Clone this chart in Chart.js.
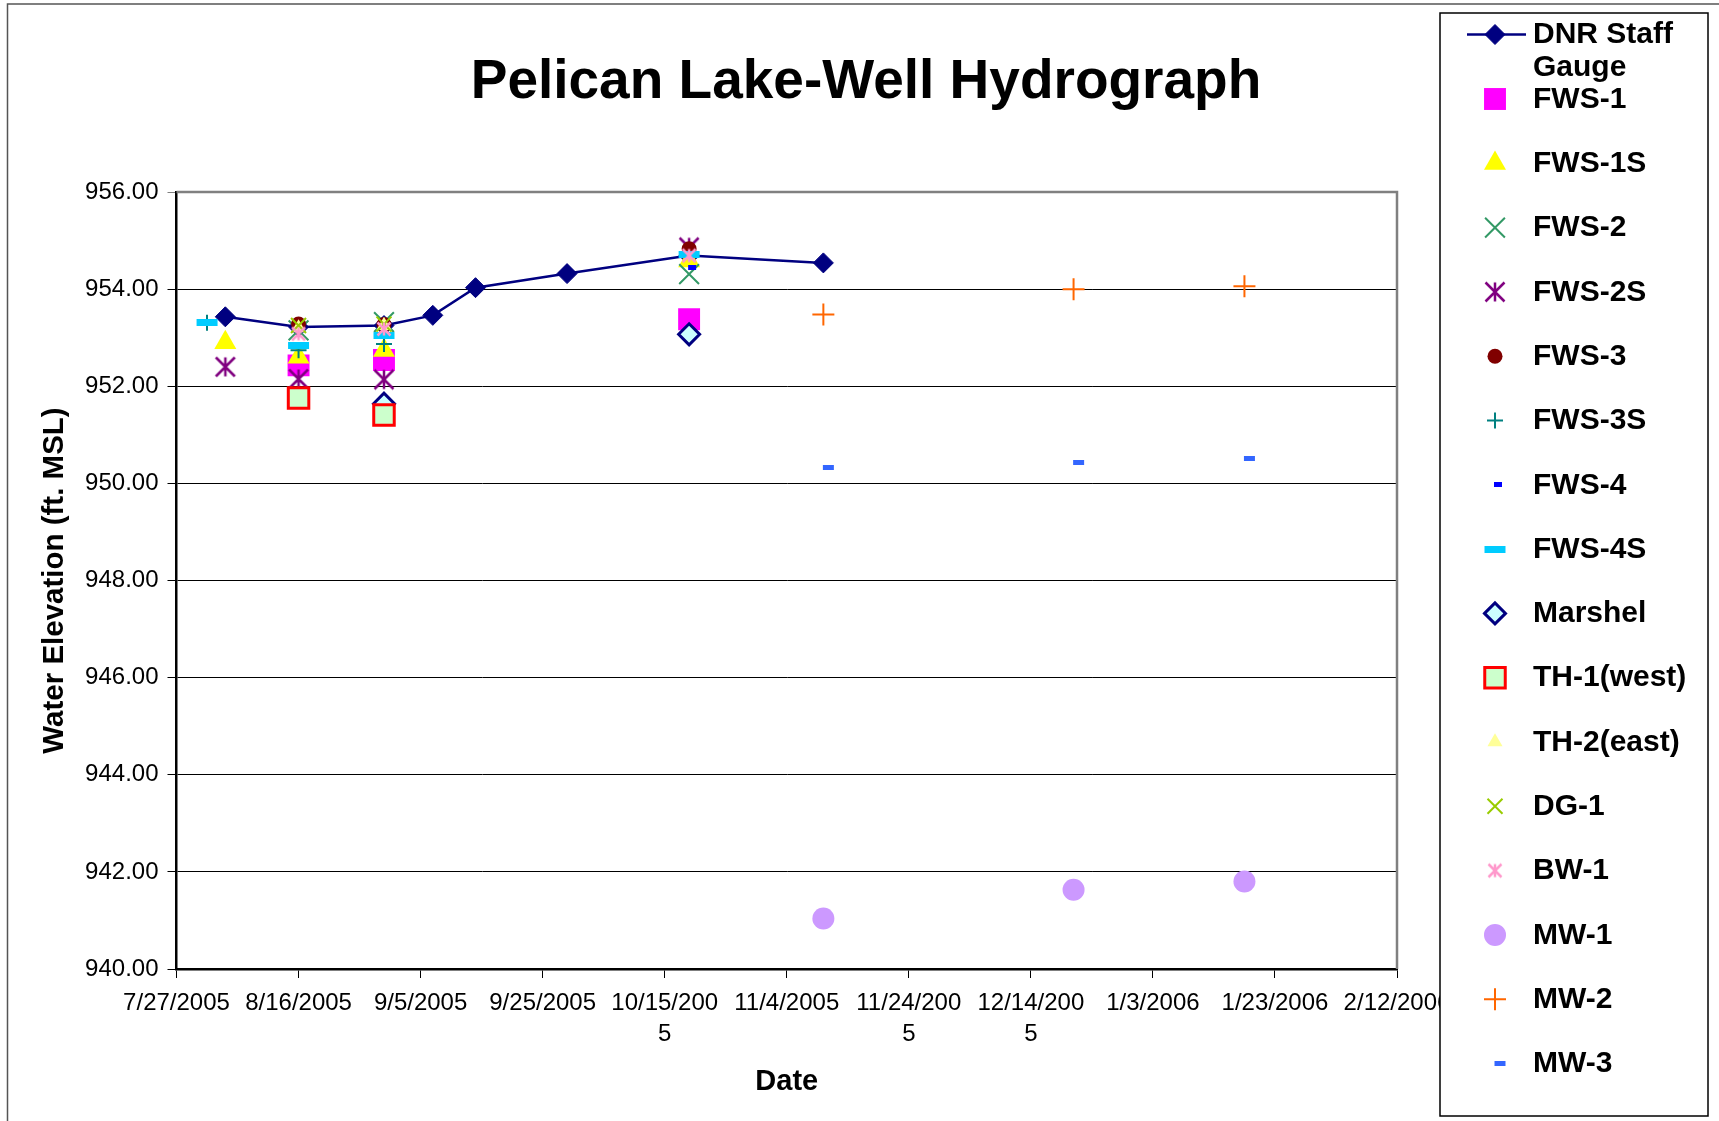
<!DOCTYPE html>
<html lang="en">
    <head>
        <meta charset="UTF-8" />
        <title>Pelican Lake-Well Hydrograph</title>
        <script src="https://cdn.jsdelivr.net/npm/chart.js"></script>
        <style>
            body {
                margin: 0;
                background: #fff;
            }
            #wrap {
                width: 1719px;
                height: 1121px;
            }
        </style>
    </head>
    <body>
        <div id="wrap">
            <canvas id="hydroChart" width="1719" height="1121"></canvas>
        </div>

        <script>
            // dates are read as days since 7/27/2005 for the x axis
            const startDate = "2005-07-27";
            const xTickLabels = ["7/27/2005", "8/16/2005", "9/5/2005", "9/25/2005", ["10/15/200", "5"], "11/4/2005", ["11/24/200", "5"], ["12/14/200", "5"], "1/3/2006", "1/23/2006", "2/12/2006"];

            const gaugeDates = ["2005-08-04", "2005-08-16", "2005-08-30", "2005-09-07", "2005-09-14", "2005-09-29", "2005-10-19", "2005-11-10"];
            const gaugeLevels = [953.43, 953.22, 953.25, 953.46, 954.03, 954.32, 954.69, 954.54];

            const fws1Dates = ["2005-08-16", "2005-08-30", "2005-10-19"];
            const fws1Levels = [952.43, 952.54, 953.38];
            const fws1sDates = ["2005-08-04", "2005-08-16", "2005-08-30", "2005-10-19"];
            const fws1sLevels = [952.9, 952.6, 952.74, 954.58];
            const fws2Dates = ["2005-08-16", "2005-08-30", "2005-10-19"];
            const fws2Levels = [953.15, 953.32, 954.31];
            const fws2sDates = ["2005-08-04", "2005-08-16", "2005-08-30", "2005-10-19"];
            const fws2sLevels = [952.4, 952.15, 952.14, 954.86];
            const fws3Dates = ["2005-08-16", "2005-08-30", "2005-10-19"];
            const fws3Levels = [953.28, 953.27, 954.83];
            const fws3sDates = ["2005-08-01", "2005-08-16", "2005-08-30"];
            const fws3sLevels = [953.31, 952.74, 952.87];
            const fws4Dates = ["2005-10-19"];
            const fws4Levels = [954.45];
            const fws4sDates = ["2005-08-01", "2005-08-16", "2005-08-30", "2005-10-19"];
            const fws4sLevels = [953.31, 952.84, 953.04, 954.72];
            const marshelDates = ["2005-08-30", "2005-10-19"];
            const marshelLevels = [951.64, 953.07];
            const th1Dates = ["2005-08-16", "2005-08-30"];
            const th1Levels = [951.76, 951.41];
            const th2Dates = ["2005-08-16", "2005-08-30"];
            const th2Levels = [953.2, 953.25];
            const dg1Dates = ["2005-08-16", "2005-08-30"];
            const dg1Levels = [953.25, 953.28];
            const bw1Dates = ["2005-08-16", "2005-08-30", "2005-10-19"];
            const bw1Levels = [953.08, 953.18, 954.69];
            const mwDates = ["2005-11-10", "2005-12-21", "2006-01-18"];
            const mw1Levels = [941.04, 941.63, 941.8];
            const mw2Levels = [953.48, 954.0, 954.06];
            const mw3Levels = [950.33, 950.43, 950.52];

            const FONT = "'Liberation Sans', Arial, sans-serif";

            function dayOf(iso) {
                return (Date.parse(iso) - Date.parse(startDate)) / 86400000;
            }

            function points(dates, levels) {
                return dates.map((d, i) => ({ x: dayOf(d), y: levels[i] }));
            }

            // small canvases for the Excel-style markers Chart.js doesn't have
            function dashImg(w, h, color, offset) {
                const c = document.createElement("canvas");
                c.width = Math.ceil((Math.abs(offset) + w / 2) * 2) + 2;
                c.height = h;
                const ctx = c.getContext("2d");
                ctx.fillStyle = color;
                ctx.fillRect(c.width / 2 + offset - w / 2, 0, w, h);
                return c;
            }

            function asteriskImg(size, color, lw) {
                const c = document.createElement("canvas");
                const s = Math.ceil(size + lw * 2);
                c.width = s;
                c.height = s;
                const ctx = c.getContext("2d");
                const m = s / 2;
                const r = size / 2;
                ctx.strokeStyle = color;
                ctx.lineWidth = lw;
                ctx.beginPath();
                ctx.moveTo(m - r, m - r);
                ctx.lineTo(m + r, m + r);
                ctx.moveTo(m + r, m - r);
                ctx.lineTo(m - r, m + r);
                ctx.moveTo(m, m - r);
                ctx.lineTo(m, m + r);
                ctx.stroke();
                return c;
            }

            const series = [
                { label: "DNR Staff Gauge", data: points(gaugeDates, gaugeLevels), pointStyle: "rectRot", radius: 10, bg: "#000080", border: "#000080", bw: 1, line: true },
                { label: "FWS-1", data: points(fws1Dates, fws1Levels), pointStyle: "rect", radius: 15.5, bg: "#FF00FF", border: "#FF00FF", bw: 0 },
                { label: "FWS-1S", data: points(fws1sDates, fws1sLevels), pointStyle: "triangle", radius: 12.7, bg: "#FFFF00", border: "#FFFF00", bw: 0 },
                { label: "FWS-2", data: points(fws2Dates, fws2Levels), pointStyle: "crossRot", radius: 14, bg: "#339966", border: "#339966", bw: 2 },
                { label: "FWS-2S", data: points(fws2sDates, fws2sLevels), pointStyle: asteriskImg(19, "#800080", 2.5), radius: 11, bg: "#800080", border: "#800080", bw: 0 },
                { label: "FWS-3", data: points(fws3Dates, fws3Levels), pointStyle: "circle", radius: 7.5, bg: "#800000", border: "#800000", bw: 0 },
                { label: "FWS-3S", data: points(fws3sDates, fws3sLevels), pointStyle: "cross", radius: 8, bg: "#008080", border: "#008080", bw: 2 },
                { label: "FWS-4", data: points(fws4Dates, fws4Levels), pointStyle: dashImg(8, 5, "#0000FF", 3), radius: 6, bg: "#0000FF", border: "#0000FF", bw: 0 },
                { label: "FWS-4S", data: points(fws4sDates, fws4sLevels), pointStyle: dashImg(21, 7, "#00CCFF", 0), radius: 11, bg: "#00CCFF", border: "#00CCFF", bw: 0 },
                { label: "Marshel", data: points(marshelDates, marshelLevels), pointStyle: "rectRot", radius: 10.5, bg: "#CCFFFF", border: "#000080", bw: 3 },
                { label: "TH-1(west)", data: points(th1Dates, th1Levels), pointStyle: "rect", radius: 14.5, bg: "#CCFFCC", border: "#FF0000", bw: 3 },
                { label: "TH-2(east)", data: points(th2Dates, th2Levels), pointStyle: "triangle", radius: 8.7, bg: "#FFFF99", border: "#FFFF99", bw: 0 },
                { label: "DG-1", data: points(dg1Dates, dg1Levels), pointStyle: "crossRot", radius: 10.6, bg: "#99CC00", border: "#99CC00", bw: 2 },
                { label: "BW-1", data: points(bw1Dates, bw1Levels), pointStyle: asteriskImg(13, "#FF99CC", 2.5), radius: 8, bg: "#FF99CC", border: "#FF99CC", bw: 0 },
                { label: "MW-1", data: points(mwDates, mw1Levels), pointStyle: "circle", radius: 11, bg: "#CC99FF", border: "#CC99FF", bw: 0 },
                { label: "MW-2", data: points(mwDates, mw2Levels), pointStyle: "cross", radius: 11, bg: "#FF6600", border: "#FF6600", bw: 2 },
                { label: "MW-3", data: points(mwDates, mw3Levels), pointStyle: dashImg(11, 5, "#3366FF", 5), radius: 7, bg: "#3366FF", border: "#3366FF", bw: 0 },
            ];

            const datasets = series.map((s, i) => ({
                label: s.label,
                data: s.data,
                showLine: !!s.line,
                borderColor: s.line ? "#000080" : s.border,
                borderWidth: 2.5,
                pointStyle: s.pointStyle,
                pointRadius: s.radius,
                pointHoverRadius: s.radius,
                pointBackgroundColor: s.bg,
                pointBorderColor: s.border,
                pointBorderWidth: s.bw,
                order: series.length - 1 - i,
            }));

            // frame, plot border, title and Excel-like legend box
            const decorations = {
                id: "decorations",
                beforeDraw(chart) {
                    const ctx = chart.ctx;
                    ctx.save();
                    ctx.fillStyle = "#fff";
                    ctx.fillRect(0, 0, chart.width, chart.height);
                    ctx.strokeStyle = "#555";
                    ctx.lineWidth = 1.5;
                    ctx.strokeRect(7.5, 4, chart.width + 10, chart.height + 10);
                    ctx.restore();
                },
                beforeDatasetsDraw(chart) {
                    const { ctx, chartArea: a } = chart;
                    ctx.save();
                    ctx.strokeStyle = "#808080";
                    ctx.lineWidth = 2.5;
                    ctx.beginPath();
                    ctx.moveTo(a.left, a.top);
                    ctx.lineTo(a.right, a.top);
                    ctx.lineTo(a.right, a.bottom);
                    ctx.stroke();
                    ctx.restore();
                },
                afterDraw(chart) {
                    const ctx = chart.ctx;
                    ctx.save();
                    ctx.fillStyle = "#000";
                    ctx.font = "bold 55px " + FONT;
                    ctx.textAlign = "center";
                    ctx.textBaseline = "middle";
                    ctx.fillText("Pelican Lake-Well Hydrograph", 866, 83);

                    // legend
                    ctx.fillStyle = "#fff";
                    ctx.fillRect(1440, 13, 268, 1103);
                    ctx.strokeStyle = "#000";
                    ctx.lineWidth = 1.5;
                    ctx.strokeRect(1440, 13, 268, 1103);

                    const mx = 1495;
                    const tx = 1533;
                    ctx.font = "bold 30px " + FONT;
                    ctx.textAlign = "left";
                    series.forEach((s, i) => {
                        const y = i === 0 ? 34.5 : 99 + (i - 1) * 64.3;
                        if (s.line) {
                            ctx.strokeStyle = "#000080";
                            ctx.lineWidth = 2.5;
                            ctx.beginPath();
                            ctx.moveTo(1467, y);
                            ctx.lineTo(1526, y);
                            ctx.stroke();
                        }
                        ctx.fillStyle = s.bg;
                        ctx.strokeStyle = s.border;
                        ctx.lineWidth = s.bw;
                        Chart.helpers.drawPoint(ctx, { pointStyle: s.pointStyle, radius: s.radius, borderWidth: s.bw, rotation: 0 }, mx, y);
                        ctx.fillStyle = "#000";
                        const ty = y + 0.5;
                        if (i === 0) {
                            ctx.fillText("DNR Staff", tx, ty);
                            ctx.fillText("Gauge", tx, ty + 33);
                        } else {
                            ctx.fillText(s.label, tx, ty);
                        }
                    });
                    ctx.restore();
                },
            };

            new Chart(document.getElementById("hydroChart"), {
                type: "scatter",
                data: { datasets: datasets },
                plugins: [decorations],
                options: {
                    responsive: false,
                    animation: false,
                    layout: {
                        padding: { top: 192, right: 322, bottom: 0, left: 0 },
                    },
                    plugins: {
                        legend: { display: false },
                        tooltip: { enabled: false },
                        title: { display: false },
                    },
                    scales: {
                        x: {
                            type: "linear",
                            min: 0,
                            max: 200,
                            afterFit: (scale) => {
                                scale.height = 152;
                            },
                            ticks: {
                                stepSize: 20,
                                autoSkip: false,
                                maxRotation: 0,
                                padding: 10,
                                color: "#000",
                                font: { family: FONT, size: 24, lineHeight: 1.3 },
                                callback: (v, i) => xTickLabels[i],
                            },
                            grid: {
                                drawOnChartArea: false,
                                drawTicks: true,
                                tickLength: 9,
                                color: "#000",
                                lineWidth: 1,
                            },
                            border: { color: "#000", width: 2.5 },
                            title: {
                                display: true,
                                text: "Date",
                                color: "#000",
                                font: { family: FONT, size: 29, weight: "bold" },
                                padding: { top: 0, bottom: 22 },
                            },
                        },
                        y: {
                            min: 940,
                            max: 956,
                            afterFit: (scale) => {
                                scale.width = 176.5;
                            },
                            ticks: {
                                stepSize: 2,
                                padding: 9,
                                color: "#000",
                                font: { family: FONT, size: 24 },
                                callback: (v) => v.toFixed(2),
                            },
                            grid: {
                                color: (c) => (c.tick && c.tick.value === 956 ? "#808080" : "#000"),
                                lineWidth: 1,
                                tickLength: 9,
                            },
                            border: { color: "#000", width: 2.5 },
                            title: {
                                display: true,
                                text: "Water Elevation (ft. MSL)",
                                color: "#000",
                                font: { family: FONT, size: 29.5, weight: "bold" },
                                padding: { top: 37, bottom: 0 },
                            },
                        },
                    },
                },
            });
        </script>
    </body>
</html>
